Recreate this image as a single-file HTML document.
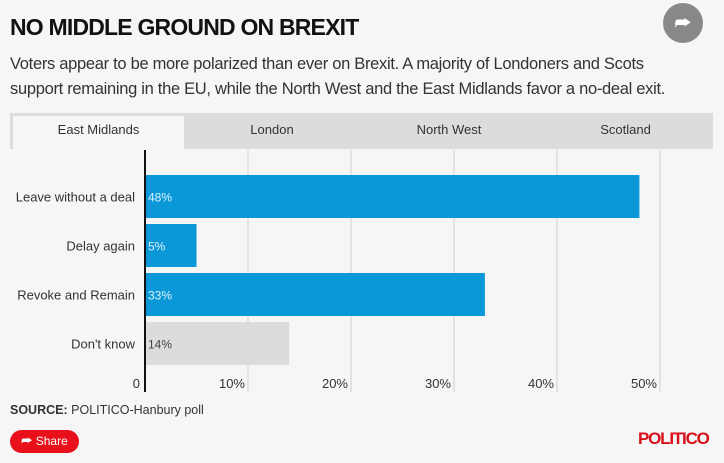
<!DOCTYPE html>
<html><head><meta charset="utf-8"><style>
body{margin:0;width:724px;height:463px;background:#f6f6f6;font-family:"Liberation Sans",sans-serif;position:relative;overflow:hidden}
.abs{position:absolute}
</style></head><body>
<div class="abs" style="left:10px;top:14px;font-size:23px;font-weight:bold;letter-spacing:-0.8px;color:#111">NO MIDDLE GROUND ON BREXIT</div>
<div class="abs" style="left:663px;top:3px;width:40px;height:40px;border-radius:50%;background:#888;color:#fff;text-align:center;line-height:40px;font-size:18px">⮫</div>
<div class="abs" style="left:10px;top:52px;font-size:16.5px;line-height:25px;color:#333;letter-spacing:-0.3px">Voters appear to be more polarized than ever on Brexit. A majority of Londoners and Scots<br>support remaining in the EU, while the North West and the East Midlands favor a no-deal exit.</div>
<div class="abs" style="left:10px;top:113px;width:703px;height:36px;background:#dcdcdc"></div>
<div class="abs" style="left:13px;top:116px;width:171px;height:33px;background:#f6f6f6;font-size:13px;color:#333;text-align:center;line-height:28px">East Midlands</div>
<div class="abs" style="left:184px;top:116px;width:176px;height:33px;font-size:13px;color:#333;text-align:center;line-height:28px">London</div>
<div class="abs" style="left:360px;top:116px;width:178px;height:33px;font-size:13px;color:#333;text-align:center;line-height:28px">North West</div>
<div class="abs" style="left:538px;top:116px;width:175px;height:33px;font-size:13px;color:#333;text-align:center;line-height:28px">Scotland</div>
<svg class="abs" style="left:0;top:0" width="724" height="463" id="chart"></svg>
<div class="abs" style="left:10px;top:403px;font-size:12.5px;color:#333"><b>SOURCE:</b> POLITICO-Hanbury poll</div>
<div class="abs" style="left:10px;top:430px;width:69px;height:23px;border-radius:12px;background:#e8111b;color:#fff;font-size:12px;line-height:23px;text-align:center">⮫ Share</div>
<div class="abs" style="left:638px;top:429px;font-size:17px;font-weight:bold;color:#d8101a;letter-spacing:-1.2px">POLITICO</div>
<script>
const categories=["Leave without a deal","Delay again","Revoke and Remain","Don't know"];
const values=[48,5,33,14];
const colors=["#0a98d8","#0a98d8","#0a98d8","#dcdcdc"];
const ticks=[0,10,20,30,40,50];
const svg=document.getElementById('chart');
const NS='http://www.w3.org/2000/svg';
const x0=145,pxPer=10.3;
const xs=v=>x0+v*pxPer;
const rowY=i=>175+i*49, barH=43;
function mk(t,a){const e=document.createElementNS(NS,t);for(const k in a)e.setAttribute(k,a[k]);svg.appendChild(e);return e;}
ticks.forEach(t=>{
  if(t>0){const l=mk('line',{x1:xs(t),x2:xs(t),y1:150,y2:392,stroke:'#d0d0d0','stroke-width':1});
  
  }
  const tx=mk('text',{x:t===0?xs(t)-5:xs(t)-3,y:388,'text-anchor':'end','font-size':13,fill:'#333','font-family':'Liberation Sans, sans-serif'});
  tx.textContent=t===0?'0':t+'%';
  
  
});
categories.forEach((c,i)=>{
  const r=mk('rect',{x:x0,y:rowY(i),width:xs(values[i])-x0,height:barH,fill:colors[i]});
  
  
  const lb=mk('text',{x:135,y:rowY(i)+barH/2+5,'text-anchor':'end','font-size':13,fill:'#333','font-family':'Liberation Sans, sans-serif'});
  lb.textContent=c;
  
  
  const vl=mk('text',{x:x0+3,y:rowY(i)+barH/2+5,'font-size':12,fill:i<3?'#dff1fb':'#444','font-family':'Liberation Sans, sans-serif'});
  vl.textContent=values[i]+'%';
  
  
});
const ax=mk('line',{x1:x0,x2:x0,y1:150,y2:392,stroke:'#111','stroke-width':2});


</script>
</body></html>
